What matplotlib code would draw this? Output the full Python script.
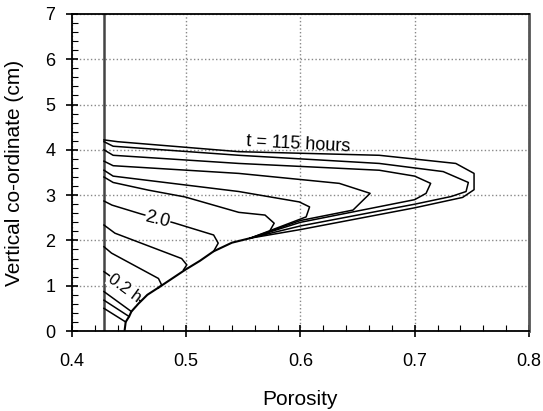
import matplotlib.pyplot as plt
from matplotlib.ticker import MultipleLocator

plt.rcParams["font.family"] = ["Liberation Sans", "DejaVu Sans"]

# initial porosity line
p_init = 0.428

# common lower front (porosity, height) shared by all profiles
front_p = [0.446, 0.447, 0.450, 0.452, 0.458, 0.466, 0.477, 0.499, 0.512, 0.524, 0.540, 0.556]
front_h = [0.0, 0.20, 0.32, 0.43, 0.60, 0.80, 0.98, 1.35, 1.55, 1.76, 1.95, 2.05]

# each profile from the initial line down to where it rejoins the front
prof_A_p = [0.428, 0.44, 0.546, 0.669, 0.736, 0.752, 0.752, 0.742, 0.70, 0.60, 0.556]
prof_A_h = [4.22, 4.18, 3.96, 3.88, 3.70, 3.48, 3.12, 2.95, 2.72, 2.24, 2.05]
prof_B_p = [0.428, 0.436, 0.546, 0.669, 0.725, 0.747, 0.745, 0.732, 0.70, 0.60, 0.556]
prof_B_h = [4.18, 4.08, 3.88, 3.70, 3.52, 3.28, 3.08, 2.97, 2.80, 2.32, 2.05]
prof_C_p = [0.428, 0.436, 0.546, 0.669, 0.700, 0.714, 0.710, 0.70, 0.60, 0.556]
prof_C_h = [4.00, 3.88, 3.70, 3.55, 3.42, 3.26, 3.04, 2.90, 2.40, 2.05]
prof_D_p = [0.428, 0.436, 0.546, 0.634, 0.661, 0.646, 0.60, 0.556]
prof_D_h = [3.75, 3.65, 3.48, 3.26, 3.04, 2.67, 2.44, 2.05]
prof_E_p = [0.428, 0.436, 0.546, 0.599, 0.608, 0.605, 0.58, 0.556]
prof_E_h = [3.55, 3.42, 3.08, 2.85, 2.74, 2.52, 2.28, 2.05]
prof_F_p = [0.428, 0.436, 0.467, 0.499, 0.546, 0.569, 0.577, 0.572, 0.556]
prof_F_h = [3.40, 3.28, 3.11, 2.96, 2.62, 2.56, 2.38, 2.16, 2.05]
prof_G_p = [0.428, 0.435, 0.461, 0.489, 0.524, 0.528, 0.524]
prof_G_h = [2.87, 2.78, 2.58, 2.39, 2.12, 1.94, 1.76]
prof_H_p = [0.428, 0.4376, 0.496, 0.5005, 0.4976]
prof_H_h = [2.34, 2.16, 1.60, 1.46, 1.35]
prof_I_p = [0.428, 0.4346, 0.4757, 0.4784, 0.4757]
prof_I_h = [1.86, 1.72, 1.16, 1.02, 0.95]
prof_J_p = [0.428, 0.432, 0.460]
prof_J_h = [1.31, 1.24, 0.66]
prof_K_p = [0.428, 0.452]
prof_K_h = [0.87, 0.43]
prof_L_p = [0.428, 0.450]
prof_L_h = [0.68, 0.32]
prof_M_p = [0.428, 0.447]
prof_M_h = [0.50, 0.20]

profiles = [
    (prof_A_p, prof_A_h), (prof_B_p, prof_B_h), (prof_C_p, prof_C_h),
    (prof_D_p, prof_D_h), (prof_E_p, prof_E_h), (prof_F_p, prof_F_h),
    (prof_G_p, prof_G_h), (prof_H_p, prof_H_h), (prof_I_p, prof_I_h),
    (prof_J_p, prof_J_h), (prof_K_p, prof_K_h), (prof_L_p, prof_L_h),
    (prof_M_p, prof_M_h),
]

fig = plt.figure(figsize=(5.43, 4.11), dpi=100)
ax = fig.add_axes([0.1326, 0.1946, 0.8414, 0.7714])

ax.plot([p_init, p_init], [0, 7], color="#444444", lw=1.8)
ax.plot(front_p, front_h, color="black", lw=1.5)
for pp, hh in profiles:
    ax.plot(pp, hh, color="black", lw=1.1)

ax.text(0.598, 4.13, "t = 115 hours", fontsize=13, rotation=-3, ha="center", va="center")
ax.text(0.475, 2.46, "2.0", fontsize=13, rotation=-14, ha="center", va="center",
        bbox=dict(facecolor="white", edgecolor="none", pad=0.3))
ax.text(0.446, 0.95, "0.2 h", fontsize=12, rotation=-36, ha="center", va="center",
        bbox=dict(facecolor="white", edgecolor="none", pad=0.2))

ax.set_xlim(0.4, 0.8)
ax.set_ylim(0, 7)
ax.xaxis.set_major_locator(MultipleLocator(0.1))
ax.xaxis.set_minor_locator(MultipleLocator(0.02))
ax.yaxis.set_major_locator(MultipleLocator(1))
ax.yaxis.set_minor_locator(MultipleLocator(0.2))
ax.xaxis.set_major_formatter(plt.FuncFormatter(lambda v, _: f"{v:.1f}"))
ax.tick_params(which="major", direction="inout", length=8, width=1.2, labelsize=13)
ax.tick_params(axis="x", which="major", pad=12)
ax.tick_params(axis="y", which="major", pad=8)
ax.tick_params(which="minor", direction="in", length=4, width=0.8)
ax.grid(True, which="major", linestyle=":", color="#888888", lw=1)

for s in ax.spines.values():
    s.set_linewidth(1.3)
ax.spines["right"].set_color("#555555")
ax.spines["right"].set_linewidth(2)

ax.set_xlabel("Porosity", fontsize=15)
ax.set_ylabel("Vertical co-ordinate (cm)", fontsize=15)
ax.xaxis.set_label_coords(0.5, -0.185)
ax.yaxis.set_label_coords(-0.105, 0.5)

fig.savefig("out.png", dpi=100)
